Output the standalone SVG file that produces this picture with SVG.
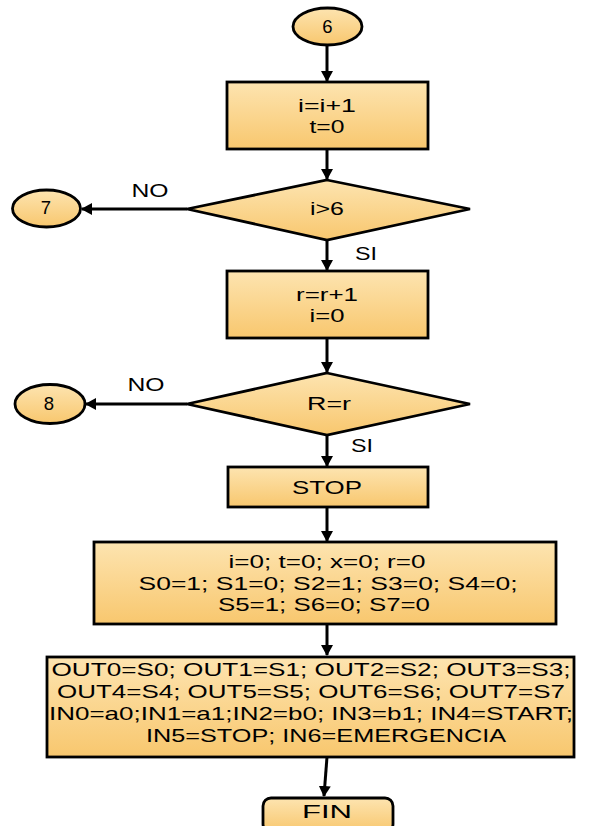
<svg xmlns="http://www.w3.org/2000/svg" width="600" height="826" viewBox="0 0 600 826">
<defs>
<linearGradient id="g" x1="0" y1="0" x2="0" y2="1">
<stop offset="0" stop-color="#fde4b0"/>
<stop offset="1" stop-color="#f8c76e"/>
</linearGradient>
<marker id="ah" markerWidth="12" markerHeight="12" refX="10" refY="6" orient="auto" markerUnits="userSpaceOnUse">
<path d="M0,0 L11,6 L0,12 Z" fill="#000"/>
</marker>
</defs>
<style>
.s{fill:url(#g);stroke:#000;stroke-width:2.8}
.t{font-family:"Liberation Sans",Arial,sans-serif;font-size:18.5px;fill:#000;text-anchor:middle}
.c{fill:none;stroke:#000;stroke-width:3;marker-end:url(#ah)}
</style>
<rect width="600" height="826" fill="#fff"/>
<g id="connectors">
<line class="c" x1="327" y1="45" x2="327" y2="81"/>
<line class="c" x1="327" y1="149" x2="327" y2="179"/>
<line class="c" x1="187" y1="209" x2="82" y2="209"/>
<line class="c" x1="327" y1="240" x2="327" y2="270"/>
<line class="c" x1="327" y1="338" x2="327" y2="372"/>
<line class="c" x1="187" y1="404" x2="86" y2="404"/>
<line class="c" x1="327" y1="435" x2="327" y2="466"/>
<line class="c" x1="327" y1="507" x2="327" y2="541"/>
<line class="c" x1="327" y1="624" x2="327" y2="655"/>
<line class="c" x1="327" y1="757" x2="324" y2="796"/>
<text class="t" x="150" y="197" textLength="37" lengthAdjust="spacingAndGlyphs">NO</text>
<text class="t" x="366" y="260" textLength="22" lengthAdjust="spacingAndGlyphs">SI</text>
<text class="t" x="146" y="391" textLength="37" lengthAdjust="spacingAndGlyphs">NO</text>
<text class="t" x="362" y="452" textLength="22" lengthAdjust="spacingAndGlyphs">SI</text>
</g>
<g id="n6">
<ellipse class="s" cx="327.5" cy="26.5" rx="34.5" ry="18.5"/>
<text class="t" x="327.5" y="32.5">6</text>
</g>
<g id="b1">
<rect class="s" x="227" y="82" width="201" height="67"/>
<text class="t" x="327" y="112" textLength="58" lengthAdjust="spacingAndGlyphs">i=i+1</text>
<text class="t" x="327" y="133" textLength="35" lengthAdjust="spacingAndGlyphs">t=0</text>
</g>
<g id="d1">
<polygon class="s" points="327,180 470,209 327,240 187,209"/>
<text class="t" x="327" y="215" textLength="34" lengthAdjust="spacingAndGlyphs">i&gt;6</text>
</g>
<g id="n7">
<ellipse class="s" cx="46.5" cy="208.5" rx="34" ry="18.5"/>
<text class="t" x="46" y="214">7</text>
</g>
<g id="b2">
<rect class="s" x="227" y="271" width="201" height="67"/>
<text class="t" x="327" y="301" textLength="62" lengthAdjust="spacingAndGlyphs">r=r+1</text>
<text class="t" x="327" y="322" textLength="35" lengthAdjust="spacingAndGlyphs">i=0</text>
</g>
<g id="d2">
<polygon class="s" points="327,373 470,404 327,435 187,404"/>
<text class="t" x="329" y="410" textLength="44" lengthAdjust="spacingAndGlyphs">R=r</text>
</g>
<g id="n8">
<ellipse class="s" cx="50" cy="404" rx="35" ry="19.5"/>
<text class="t" x="49" y="410">8</text>
</g>
<g id="stop">
<rect class="s" x="228" y="467" width="200" height="40"/>
<text class="t" x="327" y="493.5" textLength="70" lengthAdjust="spacingAndGlyphs">STOP</text>
</g>
<g id="init">
<rect class="s" x="94" y="542" width="462" height="82"/>
<text class="t" x="327" y="568" textLength="197" lengthAdjust="spacingAndGlyphs">i=0; t=0; x=0; r=0</text>
<text class="t" x="328" y="590" textLength="379" lengthAdjust="spacingAndGlyphs">S0=1; S1=0; S2=1; S3=0; S4=0;</text>
<text class="t" x="324" y="611" textLength="212" lengthAdjust="spacingAndGlyphs">S5=1; S6=0; S7=0</text>
</g>
<g id="io">
<rect class="s" x="47" y="657" width="527" height="100"/>
<text class="t" x="311" y="676" textLength="519" lengthAdjust="spacingAndGlyphs">OUT0=S0; OUT1=S1; OUT2=S2; OUT3=S3;</text>
<text class="t" x="311" y="698" textLength="508" lengthAdjust="spacingAndGlyphs">OUT4=S4; OUT5=S5; OUT6=S6; OUT7=S7</text>
<text class="t" x="311" y="720" textLength="524" lengthAdjust="spacingAndGlyphs">IN0=a0;IN1=a1;IN2=b0; IN3=b1; IN4=START;</text>
<text class="t" x="326" y="742" textLength="360" lengthAdjust="spacingAndGlyphs">IN5=STOP; IN6=EMERGENCIA</text>
</g>
<g id="fin">
<rect class="s" x="263" y="798" width="130" height="34" rx="8"/>
<text class="t" x="327" y="817.5" textLength="50" lengthAdjust="spacingAndGlyphs">FIN</text>
</g>
</svg>
